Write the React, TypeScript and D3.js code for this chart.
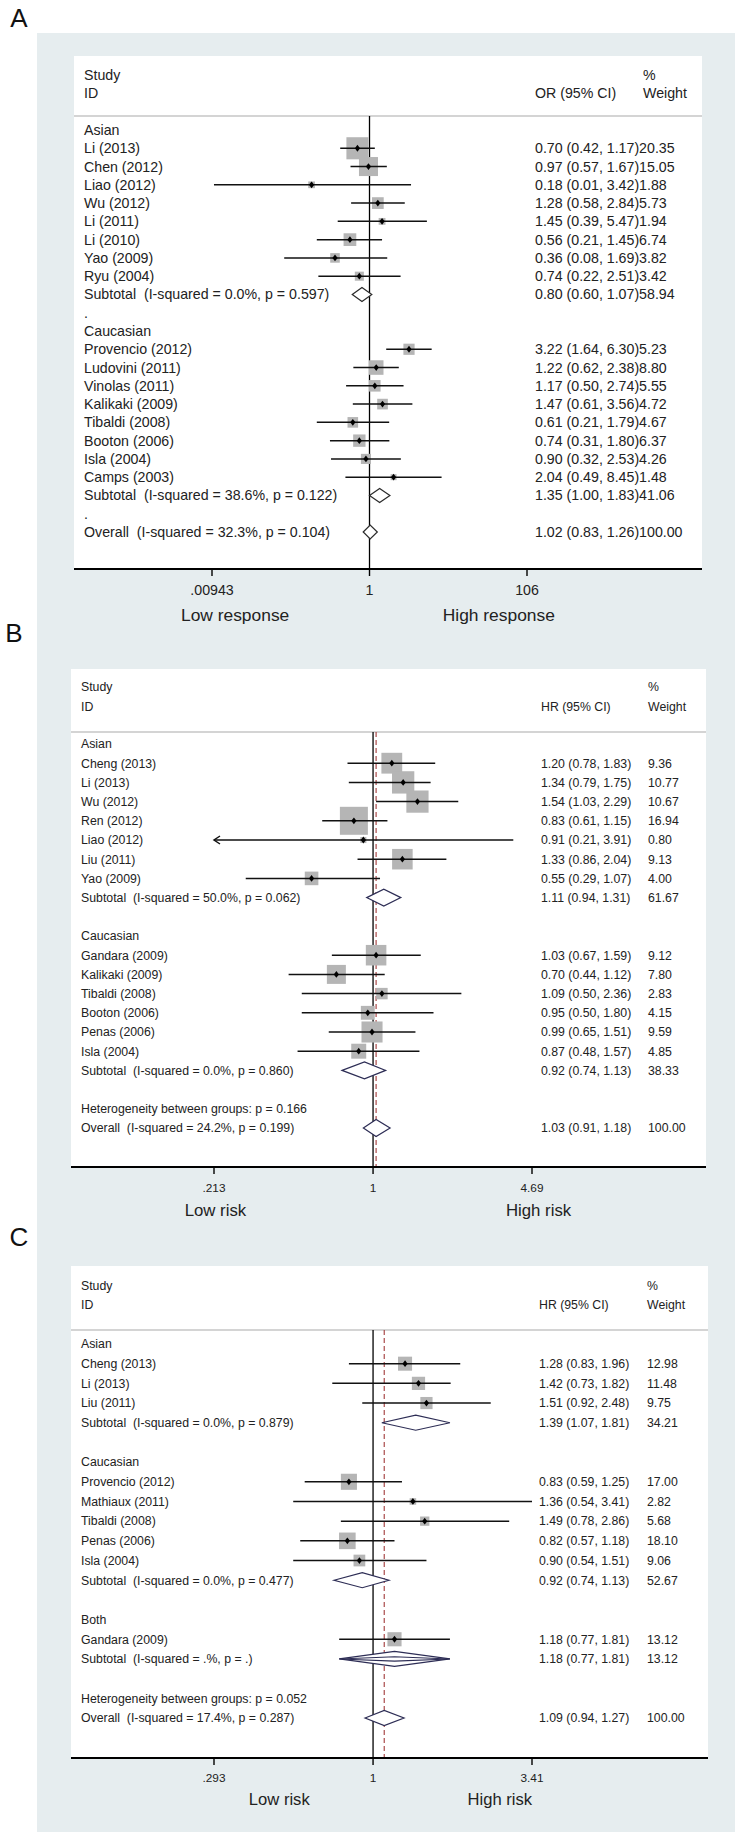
import React from 'react'
import * as d3 from 'd3'

type Study = { study: string; est: number; lo: number; hi: number; weight: number }
type Pooled = { label: string; est: number; lo: number; hi: number; weight: number; noHet?: boolean }

// ---- panel A : response (OR) ----
const aAsian: Study[] = [
  { study: 'Li (2013)', est: 0.70, lo: 0.42, hi: 1.17, weight: 20.35 },
  { study: 'Chen (2012)', est: 0.97, lo: 0.57, hi: 1.67, weight: 15.05 },
  { study: 'Liao (2012)', est: 0.18, lo: 0.01, hi: 3.42, weight: 1.88 },
  { study: 'Wu (2012)', est: 1.28, lo: 0.58, hi: 2.84, weight: 5.73 },
  { study: 'Li (2011)', est: 1.45, lo: 0.39, hi: 5.47, weight: 1.94 },
  { study: 'Li (2010)', est: 0.56, lo: 0.21, hi: 1.45, weight: 6.74 },
  { study: 'Yao (2009)', est: 0.36, lo: 0.08, hi: 1.69, weight: 3.82 },
  { study: 'Ryu (2004)', est: 0.74, lo: 0.22, hi: 2.51, weight: 3.42 },
]
const aCaucasian: Study[] = [
  { study: 'Provencio (2012)', est: 3.22, lo: 1.64, hi: 6.30, weight: 5.23 },
  { study: 'Ludovini (2011)', est: 1.22, lo: 0.62, hi: 2.38, weight: 8.80 },
  { study: 'Vinolas (2011)', est: 1.17, lo: 0.50, hi: 2.74, weight: 5.55 },
  { study: 'Kalikaki (2009)', est: 1.47, lo: 0.61, hi: 3.56, weight: 4.72 },
  { study: 'Tibaldi (2008)', est: 0.61, lo: 0.21, hi: 1.79, weight: 4.67 },
  { study: 'Booton (2006)', est: 0.74, lo: 0.31, hi: 1.80, weight: 6.37 },
  { study: 'Isla (2004)', est: 0.90, lo: 0.32, hi: 2.53, weight: 4.26 },
  { study: 'Camps (2003)', est: 2.04, lo: 0.49, hi: 8.45, weight: 1.48 },
]
const aSubtotals: Pooled[] = [
  { label: 'Subtotal  (I-squared = 0.0%, p = 0.597)', est: 0.80, lo: 0.60, hi: 1.07, weight: 58.94 },
  { label: 'Subtotal  (I-squared = 38.6%, p = 0.122)', est: 1.35, lo: 1.00, hi: 1.83, weight: 41.06 },
]
const aOverall: Pooled = { label: 'Overall  (I-squared = 32.3%, p = 0.104)', est: 1.02, lo: 0.83, hi: 1.26, weight: 100 }
const aTicks = [0.00943, 1, 106]
const aTickLabels = ['.00943', '1', '106']
const aFavours = ['Low response', 'High response']
const aFavoursAt = [0.0187, 46]

// ---- panel B : HR ----
const bAsian: Study[] = [
  { study: 'Cheng (2013)', est: 1.20, lo: 0.78, hi: 1.83, weight: 9.36 },
  { study: 'Li (2013)', est: 1.34, lo: 0.79, hi: 1.75, weight: 10.77 },
  { study: 'Wu (2012)', est: 1.54, lo: 1.03, hi: 2.29, weight: 10.67 },
  { study: 'Ren (2012)', est: 0.83, lo: 0.61, hi: 1.15, weight: 16.94 },
  { study: 'Liao (2012)', est: 0.91, lo: 0.21, hi: 3.91, weight: 0.80 },
  { study: 'Liu (2011)', est: 1.33, lo: 0.86, hi: 2.04, weight: 9.13 },
  { study: 'Yao (2009)', est: 0.55, lo: 0.29, hi: 1.07, weight: 4.00 },
]
const bCaucasian: Study[] = [
  { study: 'Gandara (2009)', est: 1.03, lo: 0.67, hi: 1.59, weight: 9.12 },
  { study: 'Kalikaki (2009)', est: 0.70, lo: 0.44, hi: 1.12, weight: 7.80 },
  { study: 'Tibaldi (2008)', est: 1.09, lo: 0.50, hi: 2.36, weight: 2.83 },
  { study: 'Booton (2006)', est: 0.95, lo: 0.50, hi: 1.80, weight: 4.15 },
  { study: 'Penas (2006)', est: 0.99, lo: 0.65, hi: 1.51, weight: 9.59 },
  { study: 'Isla (2004)', est: 0.87, lo: 0.48, hi: 1.57, weight: 4.85 },
]
const bSubtotals: Pooled[] = [
  { label: 'Subtotal  (I-squared = 50.0%, p = 0.062)', est: 1.11, lo: 0.94, hi: 1.31, weight: 61.67 },
  { label: 'Subtotal  (I-squared = 0.0%, p = 0.860)', est: 0.92, lo: 0.74, hi: 1.13, weight: 38.33 },
]
const bHet = 'Heterogeneity between groups: p = 0.166'
const bOverall: Pooled = { label: 'Overall  (I-squared = 24.2%, p = 0.199)', est: 1.03, lo: 0.91, hi: 1.18, weight: 100 }
const bTicks = [0.213, 1, 4.69]
const bTickLabels = ['.213', '1', '4.69']
const bFavours = ['Low risk', 'High risk']
const bFavoursAt = [0.216, 5.0]

// ---- panel C : HR ----
const cAsian: Study[] = [
  { study: 'Cheng (2013)', est: 1.28, lo: 0.83, hi: 1.96, weight: 12.98 },
  { study: 'Li (2013)', est: 1.42, lo: 0.73, hi: 1.82, weight: 11.48 },
  { study: 'Liu (2011)', est: 1.51, lo: 0.92, hi: 2.48, weight: 9.75 },
]
const cCaucasian: Study[] = [
  { study: 'Provencio (2012)', est: 0.83, lo: 0.59, hi: 1.25, weight: 17.00 },
  { study: 'Mathiaux (2011)', est: 1.36, lo: 0.54, hi: 3.41, weight: 2.82 },
  { study: 'Tibaldi (2008)', est: 1.49, lo: 0.78, hi: 2.86, weight: 5.68 },
  { study: 'Penas (2006)', est: 0.82, lo: 0.57, hi: 1.18, weight: 18.10 },
  { study: 'Isla (2004)', est: 0.90, lo: 0.54, hi: 1.51, weight: 9.06 },
]
const cBoth: Study[] = [
  { study: 'Gandara (2009)', est: 1.18, lo: 0.77, hi: 1.81, weight: 13.12 },
]
const cSubtotals: Pooled[] = [
  { label: 'Subtotal  (I-squared = 0.0%, p = 0.879)', est: 1.39, lo: 1.07, hi: 1.81, weight: 34.21 },
  { label: 'Subtotal  (I-squared = 0.0%, p = 0.477)', est: 0.92, lo: 0.74, hi: 1.13, weight: 52.67 },
  { label: 'Subtotal  (I-squared = .%, p = .)', est: 1.18, lo: 0.77, hi: 1.81, weight: 13.12, noHet: true },
]
const cHet = 'Heterogeneity between groups: p = 0.052'
const cOverall: Pooled = { label: 'Overall  (I-squared = 17.4%, p = 0.287)', est: 1.09, lo: 0.94, hi: 1.27, weight: 100 }
const cTicks = [0.293, 1, 3.41]
const cTickLabels = ['.293', '1', '3.41']
const cFavours = ['Low risk', 'High risk']
const cFavoursAt = [0.485, 2.66]

type Row =
  | { kind: 'text'; text: string }
  | { kind: 'study'; d: Study }
  | { kind: 'pooled'; d: Pooled }
  | { kind: 'blank' }

function buildRows(groups: [string, Study[], Pooled][], gap: 'dot' | 'blank', het: string | null, overall: Pooled): Row[] {
  const rows: Row[] = []
  groups.forEach(([name, studies, sub]) => {
    rows.push({ kind: 'text', text: name })
    studies.forEach(d => rows.push({ kind: 'study', d }))
    rows.push({ kind: 'pooled', d: sub })
    rows.push(gap === 'dot' ? { kind: 'text', text: '.' } : { kind: 'blank' })
  })
  if (het) rows.push({ kind: 'text', text: het })
  rows.push({ kind: 'pooled', d: overall })
  return rows
}

const f2 = d3.format('.2f')
const ci = (d: { est: number; lo: number; hi: number }) => `${f2(d.est)} (${f2(d.lo)}, ${f2(d.hi)})`

type Layout = {
  letter: string; letterX: number; letterY: number
  bgTop: number; bgBottom: number
  boxL: number; boxR: number; boxTop: number
  head1: number; head2: number; sep: number
  row0: number; rowN: number; axisY: number; tickY: number; favY: number
  textX: number; estX: number; weightX: number | null
  x0: number; x1: number; font: number; tickFont: number; favFont: number
  boxK: number; diaH: number; diaStroke: string; refLine: boolean; estHead: string
}

function Panel({ L, rows, ticks, tickLabels, favours, favoursAt, overall }: {
  L: Layout; rows: Row[]; ticks: number[]; tickLabels: string[]; favours: string[]; favoursAt: number[]; overall: Pooled
}) {
  const x = d3.scaleLog().domain([ticks[0], ticks[ticks.length - 1]]).range([L.x0, L.x1])
  const y = d3.scaleLinear().domain([0, rows.length - 1]).range([L.row0, L.rowN])
  const side = d3.scaleSqrt().domain([0, 100]).range([0, L.boxK * 10])
  const [dmin, dmax] = x.domain()
  const txt = '#222'

  const diamond = (d: Pooled, yy: number, h: number) =>
    `${x(d.lo)},${yy} ${x(d.est)},${yy - h} ${x(d.hi)},${yy} ${x(d.est)},${yy + h}`

  return (
    <g>
      <rect x={37} y={L.bgTop} width={698} height={L.bgBottom - L.bgTop} fill="#e6edef" />
      <text x={L.letterX} y={L.letterY} dy="0.35em" textAnchor="middle" fontSize={26} fill="#111">{L.letter}</text>
      <rect x={L.boxL} y={L.boxTop} width={L.boxR - L.boxL} height={L.axisY - L.boxTop} fill="#fff" />
      {/* header */}
      <g fontSize={L.font} fill={txt}>
        <text x={L.textX} y={L.head1} dy="0.35em">Study</text>
        <text x={L.textX} y={L.head2} dy="0.35em">ID</text>
        <text x={L.estX} y={L.head2} dy="0.35em">{L.estHead}</text>
        <text x={L.weightX ?? 643} y={L.head1} dy="0.35em">%</text>
        <text x={L.weightX ?? 643} y={L.head2} dy="0.35em">Weight</text>
      </g>
      <line x1={L.boxL} x2={L.boxR} y1={L.sep} y2={L.sep} stroke="#c6c6c6" strokeWidth={1.6} />
      {/* null line and overall line */}
      <line x1={x(1)} x2={x(1)} y1={L.sep} y2={L.axisY} stroke="#000" strokeWidth={1.3} />
      {L.refLine && (
        <line x1={x(overall.est)} x2={x(overall.est)} y1={L.sep} y2={L.axisY} stroke="#a23a3a" strokeWidth={1.1} strokeDasharray="5,3" />
      )}
      {rows.map((r, i) => {
        const yy = y(i)
        if (r.kind === 'blank') return null
        if (r.kind === 'text')
          return <text key={i} x={L.textX} y={yy} dy="0.35em" fontSize={L.font} fill={txt}>{r.text}</text>
        if (r.kind === 'study') {
          const d = r.d
          const s = side(d.weight)
          const xl = x(Math.max(d.lo, dmin))
          const xr = x(Math.min(d.hi, dmax))
          const xe = x(d.est)
          return (
            <g key={i}>
              <rect x={xe - s / 2} y={yy - s / 2} width={s} height={s} fill="#b5b5b5" />
              <line x1={xl} x2={xr} y1={yy} y2={yy} stroke="#111" strokeWidth={1.5} />
              {d.lo < dmin && (
                <path d={`M${xl + 6},${yy - 4}L${xl},${yy}L${xl + 6},${yy + 4}`} fill="none" stroke="#111" strokeWidth={1.5} />
              )}
              {d.hi > dmax && (
                <path d={`M${xr - 6},${yy - 4}L${xr},${yy}L${xr - 6},${yy + 4}`} fill="none" stroke="#111" strokeWidth={1.5} />
              )}
              <path d={`M${xe},${yy - 3.4}L${xe + 2.6},${yy}L${xe},${yy + 3.4}L${xe - 2.6},${yy}Z`} fill="#000" />
              <text x={L.textX} y={yy} dy="0.35em" fontSize={L.font} fill={txt}>{d.study}</text>
              {L.weightX === null ? (
                <text x={L.estX} y={yy} dy="0.35em" fontSize={L.font} fill={txt}>{ci(d) + f2(d.weight)}</text>
              ) : (
                <>
                  <text x={L.estX} y={yy} dy="0.35em" fontSize={L.font} fill={txt}>{ci(d)}</text>
                  <text x={L.weightX} y={yy} dy="0.35em" fontSize={L.font} fill={txt}>{f2(d.weight)}</text>
                </>
              )}
            </g>
          )
        }
        const d = r.d
        return (
          <g key={i}>
            <polygon points={diamond(d, yy, L.diaH)} fill="#fff" stroke={L.diaStroke} strokeWidth={1.2} />
            {d.noHet && <polygon points={diamond(d, yy, 2.2)} fill="none" stroke={L.diaStroke} strokeWidth={1.1} />}
            <text x={L.textX} y={yy} dy="0.35em" fontSize={L.font} fill={txt} xmlSpace="preserve" style={{ whiteSpace: 'pre' }}>{d.label}</text>
            {L.weightX === null ? (
              <text x={L.estX} y={yy} dy="0.35em" fontSize={L.font} fill={txt}>{ci(d) + f2(d.weight)}</text>
            ) : (
              <>
                <text x={L.estX} y={yy} dy="0.35em" fontSize={L.font} fill={txt}>{ci(d)}</text>
                <text x={L.weightX} y={yy} dy="0.35em" fontSize={L.font} fill={txt}>{f2(d.weight)}</text>
              </>
            )}
          </g>
        )
      })}
      {/* axis */}
      <line x1={L.boxL} x2={L.boxR} y1={L.axisY} y2={L.axisY} stroke="#000" strokeWidth={1.8} />
      {ticks.map((t, i) => (
        <g key={i}>
          <line x1={x(t)} x2={x(t)} y1={L.axisY} y2={L.axisY + 7} stroke="#000" strokeWidth={1.4} />
          <text x={x(t)} y={L.tickY} dy="0.35em" textAnchor="middle" fontSize={L.tickFont} fill={txt}>{tickLabels[i]}</text>
        </g>
      ))}
      {favours.map((f, i) => (
        <text key={i} x={x(favoursAt[i])} y={L.favY} dy="0.35em" textAnchor="middle" fontSize={L.favFont} fill={txt}>{f}</text>
      ))}
    </g>
  )
}

const layoutA: Layout = {
  letter: 'A', letterX: 19, letterY: 18, bgTop: 33, bgBottom: 648,
  boxL: 74, boxR: 702, boxTop: 56, head1: 75, head2: 93, sep: 116,
  row0: 130, rowN: 532, axisY: 569, tickY: 590, favY: 615,
  textX: 84, estX: 535, weightX: null, x0: 212, x1: 527,
  font: 14.2, tickFont: 14.2, favFont: 17.4, boxK: 4.9, diaH: 7, diaStroke: '#2a2a2a', refLine: false, estHead: 'OR (95% CI)',
}
const layoutB: Layout = {
  letter: 'B', letterX: 14, letterY: 633, bgTop: 648, bgBottom: 1226,
  boxL: 71, boxR: 706, boxTop: 669, head1: 687, head2: 707, sep: 732,
  row0: 744, rowN: 1128, axisY: 1167, tickY: 1188, favY: 1210,
  textX: 81, estX: 541, weightX: 648, x0: 214, x1: 532,
  font: 12.3, tickFont: 11.8, favFont: 16.8, boxK: 6.8, diaH: 8.5, diaStroke: '#2d2d55', refLine: true, estHead: 'HR (95% CI)',
}
const layoutC: Layout = {
  letter: 'C', letterX: 19, letterY: 1237, bgTop: 1226, bgBottom: 1832,
  boxL: 71, boxR: 708, boxTop: 1266, head1: 1286, head2: 1305, sep: 1330,
  row0: 1344, rowN: 1718, axisY: 1758, tickY: 1778, favY: 1799,
  textX: 81, estX: 539, weightX: 647, x0: 214, x1: 532,
  font: 12.3, tickFont: 11.8, favFont: 16.6, boxK: 3.9, diaH: 7.5, diaStroke: '#2d2d55', refLine: true, estHead: 'HR (95% CI)',
}

export default function App() {
  const rowsA = buildRows([['Asian', aAsian, aSubtotals[0]], ['Caucasian', aCaucasian, aSubtotals[1]]], 'dot', null, aOverall)
  const rowsB = buildRows([['Asian', bAsian, bSubtotals[0]], ['Caucasian', bCaucasian, bSubtotals[1]]], 'blank', bHet, bOverall)
  const rowsC = buildRows(
    [['Asian', cAsian, cSubtotals[0]], ['Caucasian', cCaucasian, cSubtotals[1]], ['Both', cBoth, cSubtotals[2]]],
    'blank', cHet, cOverall)
  return (
    <div>
      <style>{'body{margin:0}'}</style>
      <svg width={739} height={1838} style={{ display: 'block', background: '#fff' }}
        fontFamily="'Liberation Sans', Arial, sans-serif">
        <Panel L={layoutA} rows={rowsA} ticks={aTicks} tickLabels={aTickLabels} favours={aFavours} favoursAt={aFavoursAt} overall={aOverall} />
        <Panel L={layoutB} rows={rowsB} ticks={bTicks} tickLabels={bTickLabels} favours={bFavours} favoursAt={bFavoursAt} overall={bOverall} />
        <Panel L={layoutC} rows={rowsC} ticks={cTicks} tickLabels={cTickLabels} favours={cFavours} favoursAt={cFavoursAt} overall={cOverall} />
      </svg>
    </div>
  )
}
